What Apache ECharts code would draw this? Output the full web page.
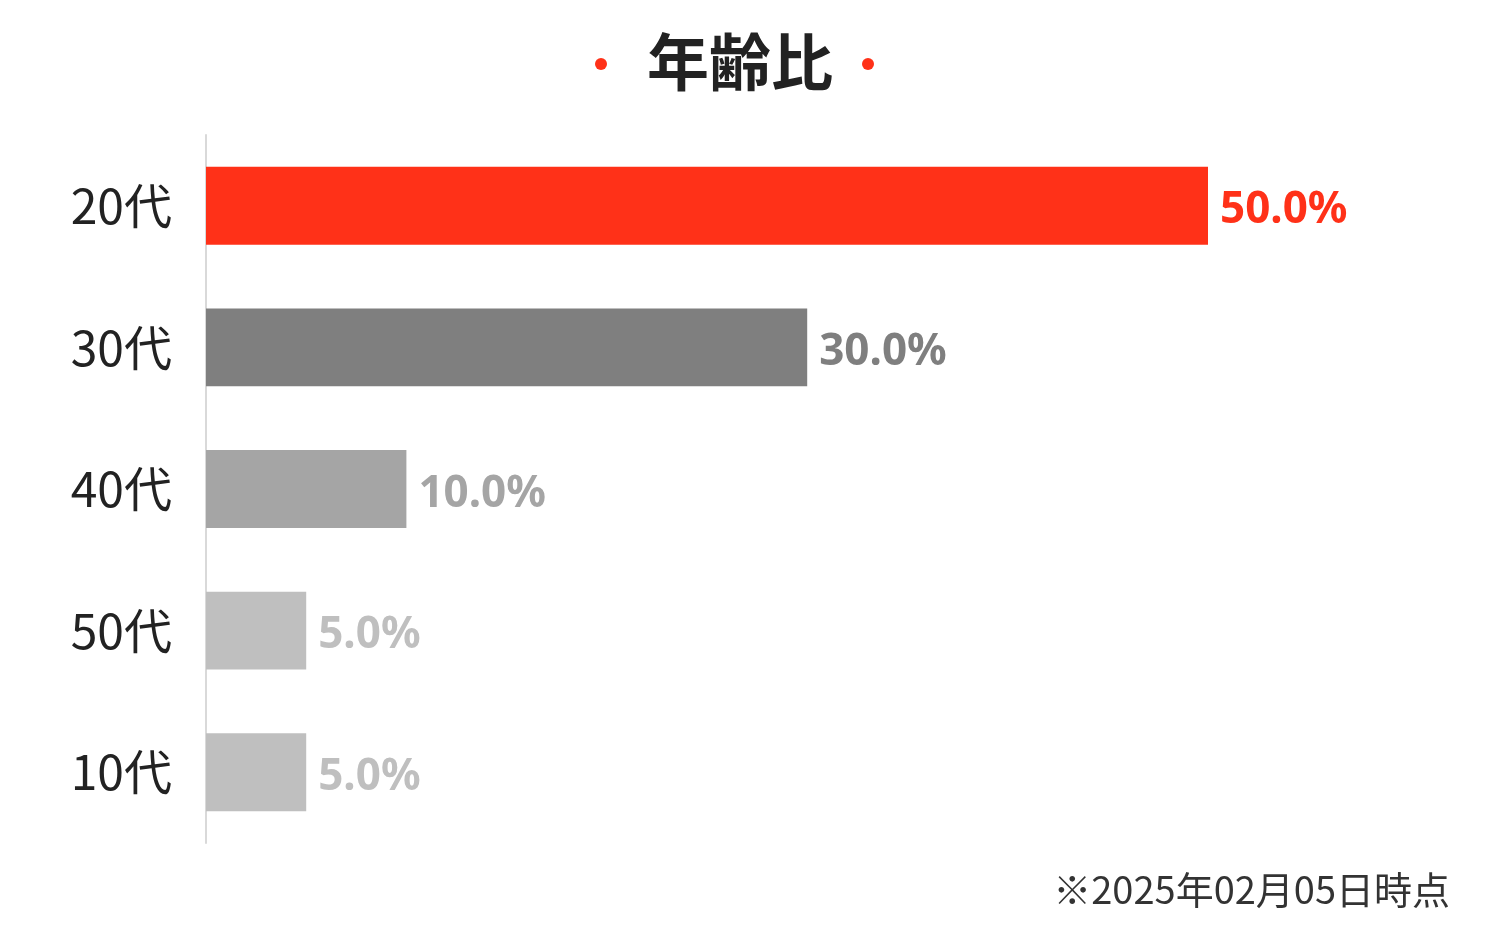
<!DOCTYPE html>
<html>
<head>
<meta charset="utf-8">
<script src="https://cdn.jsdelivr.net/npm/echarts@6/dist/echarts.min.js"></script>
<style>
    html,body{margin:0;padding:0;background:#fff;}
    #ageChart{width:1509px;height:947px;}
</style>
</head>
<body>
<div id="ageChart"></div>
<script>
    // 年代別の割合
    var ageGroups = ['20代', '30代', '40代', '50代', '10代'];
    var ageRatios = [50.0, 30.0, 10.0, 5.0, 5.0];
    var barColors = ['#ff3118', '#7f7f7f', '#a5a5a5', '#bfbfbf', '#bfbfbf'];

    var chart = echarts.init(document.getElementById('ageChart'));
    var cjk = '"Noto Sans CJK JP", "Noto Sans", sans-serif';

    var option = {
        backgroundColor: '#fff',
        animation: false,
        graphic: [
            {type: 'circle', shape: {cx: 601, cy: 64, r: 6}, style: {fill: '#ff3118'}},
            {type: 'circle', shape: {cx: 868, cy: 64, r: 6}, style: {fill: '#ff3118'}},
            {
                type: 'text', x: 740, y: 62,
                style: {
                    text: '年齢比', fill: '#222', font: 'bold 62px ' + cjk,
                    align: 'center', verticalAlign: 'middle'
                }
            },
            {
                type: 'text', x: 1450, y: 890,
                style: {
                    text: '※2025年02月05日時点', fill: '#333', font: '38px ' + cjk,
                    align: 'right', verticalAlign: 'middle'
                }
            }
        ],
        grid: {left: 206, right: 301, top: 135, bottom: 104},
        xAxis: {
            type: 'value', min: 0, max: 50,
            show: false
        },
        yAxis: {
            type: 'category',
            data: ageGroups,
            inverse: true,
            axisLine: {lineStyle: {color: '#d9d9d9', width: 2}},
            axisTick: {show: false},
            axisLabel: {
                color: '#222', fontSize: 48, fontFamily: cjk, margin: 34
            }
        },
        series: [{
            type: 'bar',
            barWidth: '55%',
            data: ageRatios.map(function (v, i) {
                return {
                    value: v,
                    itemStyle: {color: barColors[i]},
                    label: {color: barColors[i]}
                };
            }),
            label: {
                show: true,
                position: 'right',
                distance: 12,
                offset: [0, 5],
                fontSize: 44,
                fontWeight: 'bold',
                fontFamily: '"Noto Sans", "Open Sans", sans-serif',
                formatter: function (p) { return p.value.toFixed(1) + '%'; }
            }
        }]
    };
    chart.setOption(option);
    window.addEventListener('resize', chart.resize);
</script>
</body>
</html>
